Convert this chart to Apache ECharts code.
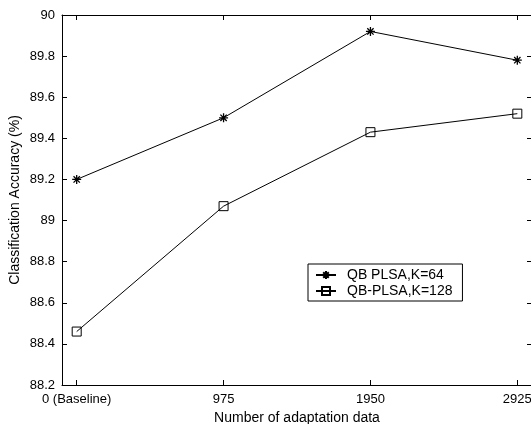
<!DOCTYPE html>
<html>
<head>
<meta charset="utf-8">
<script src="https://cdn.jsdelivr.net/npm/echarts@6/dist/echarts.min.js"></script>
<style>
html,body{margin:0;padding:0;background:#fff;}
#c{width:531px;height:424px;}
</style>
</head>
<body>
<div id="c"></div>
<script>
var categories = ['0 (Baseline)', '975', '1950', '2925'];
var xPositions = [1, 2, 3, 4];
var qbPlsa64 = [89.20, 89.50, 89.92, 89.78];
var qbPlsa128 = [88.46, 89.07, 89.43, 89.52];
var yTicks = [88.2, 88.4, 88.6, 88.8, 89, 89.2, 89.4, 89.6, 89.8, 90];

function pairs(vals) {
  return vals.map(function (v, i) { return [xPositions[i], v]; });
}

var FONT = 'Liberation Sans, Arial, Helvetica, sans-serif';
var starPath = 'path://M0,5L10,5M5,0L5,10M1.5,1.5L8.5,8.5M8.5,1.5L1.5,8.5';

var chart = echarts.init(document.getElementById('c'), null, {renderer: 'canvas'});
chart.setOption({
  animation: false,
  backgroundColor: '#fff',
  grid: {left: 62, right: -1, top: 15, bottom: 39, containLabel: false, outerBoundsMode: 'none'},
  legend: {
    orient: 'vertical',
    left: 308,
    top: 264,
    padding: [4, 10, 3, 7],
    itemGap: 2,
    itemWidth: 20,
    itemHeight: 10,
    borderColor: '#000',
    borderWidth: 1,
    backgroundColor: '#fff',
    textStyle: {fontFamily: FONT, fontSize: 14, color: '#000', padding: [0, 0, 0, 6]},
    data: ['QB PLSA,K=64', 'QB-PLSA,K=128']
  },
  xAxis: [{
    type: 'value',
    position: 'bottom',
    min: 0.9, max: 4.1,
    name: 'Number of adaptation data',
    nameLocation: 'middle',
    nameGap: 23,
    nameTextStyle: {fontFamily: FONT, fontSize: 14, color: '#000'},
    axisLine: {show: true, lineStyle: {color: '#000', width: 1}},
    axisTick: {show: true, inside: true, length: 5, customValues: xPositions, lineStyle: {color: '#000'}},
    axisLabel: {show: true, customValues: xPositions, margin: 8, fontFamily: FONT, fontSize: 13, color: '#000',
      formatter: function (v) { return categories[Math.round(v) - 1] || ''; }},
    splitLine: {show: false}
  }, {
    type: 'value',
    position: 'top',
    min: 0.9, max: 4.1,
    axisLine: {show: true, onZero: false, lineStyle: {color: '#000', width: 1}},
    axisTick: {show: true, inside: true, length: 5, customValues: xPositions, lineStyle: {color: '#000'}},
    axisLabel: {show: false},
    splitLine: {show: false}
  }],
  yAxis: [{
    type: 'value',
    position: 'left',
    min: 88.2, max: 90, interval: 0.2,
    name: 'Classification Accuracy (%)',
    nameLocation: 'middle',
    nameGap: 40,
    nameMoveOverlap: false,
    nameTextStyle: {fontFamily: FONT, fontSize: 14, color: '#000'},
    axisLine: {show: true, onZero: false, lineStyle: {color: '#000', width: 1}},
    axisTick: {show: true, inside: true, length: 5, customValues: yTicks, lineStyle: {color: '#000'}},
    axisLabel: {show: true, customValues: yTicks, margin: 7, fontFamily: FONT, fontSize: 13, color: '#000',
      formatter: function (v) { return String(parseFloat(Number(v).toFixed(1))); }},
    splitLine: {show: false}
  }, {
    type: 'value',
    position: 'right',
    min: 88.2, max: 90, interval: 0.2,
    axisLine: {show: true, onZero: false, lineStyle: {color: '#000', width: 1}},
    axisTick: {show: true, inside: true, length: 5, customValues: yTicks, lineStyle: {color: '#000'}},
    axisLabel: {show: false},
    splitLine: {show: false}
  }],
  series: [{
    name: 'QB PLSA,K=64',
    type: 'line',
    xAxisIndex: 0, yAxisIndex: 0,
    data: pairs(qbPlsa64),
    symbol: starPath,
    symbolSize: 9,
    lineStyle: {color: '#000', width: 1},
    itemStyle: {color: 'transparent', borderColor: '#000', borderWidth: 1.3},
    emphasis: {disabled: true}
  }, {
    name: 'QB-PLSA,K=128',
    type: 'line',
    xAxisIndex: 0, yAxisIndex: 0,
    data: pairs(qbPlsa128),
    symbol: 'rect',
    symbolSize: 9,
    lineStyle: {color: '#000', width: 1},
    itemStyle: {color: 'transparent', borderColor: '#000', borderWidth: 1},
    emphasis: {disabled: true}
  }]
});
</script>
</body>
</html>
